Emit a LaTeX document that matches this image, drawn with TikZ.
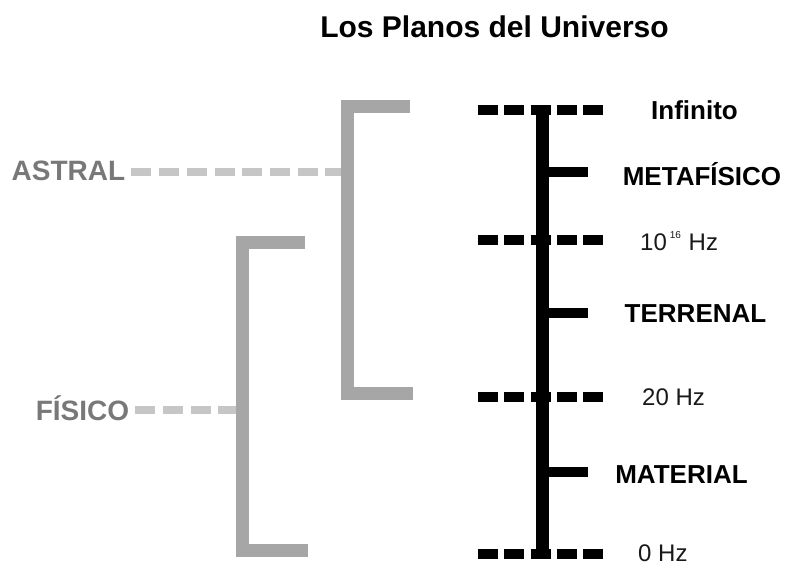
\documentclass[tikz,border=0pt]{standalone}
\usepackage{fontspec}
\setmainfont{Liberation Sans}
\definecolor{brgray}{HTML}{A6A6A6}
\definecolor{lkgray}{HTML}{C6C6C6}
\definecolor{txgray}{HTML}{787878}
\begin{document}
\begin{tikzpicture}[x=1pt, y=-1pt,
  mainbar/.style={line width=13pt, black},
  levelline/.style={line width=10pt, black, dash pattern=on 20pt off 6.25pt},
  tickline/.style={line width=10pt, black},
  bracketline/.style={line width=13pt, brgray, line join=miter},
  linkline/.style={line width=8.5pt, lkgray, dash pattern=on 20pt off 7.7pt},
  planelbl/.style={anchor=base, inner sep=0pt, font=\fontsize{26}{30}\selectfont\bfseries},
  freqlbl/.style={anchor=base west, inner sep=0pt, font=\fontsize{24}{28}\selectfont, text=black!90},
  realmlbl/.style={anchor=base, inner sep=0pt, font=\fontsize{28}{32}\selectfont\bfseries, text=txgray},
]
  \useasboundingbox (0,0) rectangle (785,565);
  \node[anchor=base, inner sep=0pt, font=\fontsize{30}{34}\selectfont\bfseries] (title) at (494.5,37) {Los Planos del Universo};

  % escala de frecuencias
  \coordinate (top) at (542,105);
  \coordinate (bot) at (542,558);
  \draw[mainbar] (top) -- (bot);
  \foreach \n/\y in {inf/110, hi/240, lo/397, zero/554} {
    \coordinate (\n L) at (478,\y);
    \coordinate (\n R) at (603,\y);
    \draw[levelline] (\n L) -- (\n R);
  }
  \foreach \n/\y in {meta/172, terr/313, mat/472} {
    \coordinate (\n A) at (548,\y);
    \coordinate (\n B) at (588,\y);
    \draw[tickline] (\n A) -- (\n B);
  }

  \node[planelbl] (infinito) at (694.5,119) {Infinito};
  \node[planelbl] (metafisico) at (702,185) {METAFÍSICO};
  \node[planelbl] (terrenal) at (695.5,322) {TERRENAL};
  \node[planelbl] (material) at (681.5,483) {MATERIAL};
  \node[freqlbl] (f16) at (640,250) {10\kern3pt\raisebox{12pt}{\fontsize{10}{10}\selectfont 16}\kern1pt{} Hz};
  \node[freqlbl] (f20) at (642,405) {20 Hz};
  \node[freqlbl] (f0) at (638,561) {0 Hz};

  % llaves grises
  \coordinate (astT) at (410,106);
  \coordinate (astB) at (413,393);
  \coordinate (astM) at (341,172);
  \draw[bracketline] (astT) -| (347,393) -- (astB);
  \coordinate (fisT) at (305,242);
  \coordinate (fisB) at (308,550);
  \coordinate (fisM) at (236,410);
  \draw[bracketline] (fisT) -| (242,550) -- (fisB);

  \node[realmlbl] (astral) at (68.5,180) {ASTRAL};
  \node[realmlbl] (fisico) at (82.5,420) {FÍSICO};
  \draw[linkline] (astral.east |- astM) ++(6,0) -- (astM);
  \draw[linkline] (fisico.east |- fisM) ++(6,0) -- (fisM);
\end{tikzpicture}
\end{document}
